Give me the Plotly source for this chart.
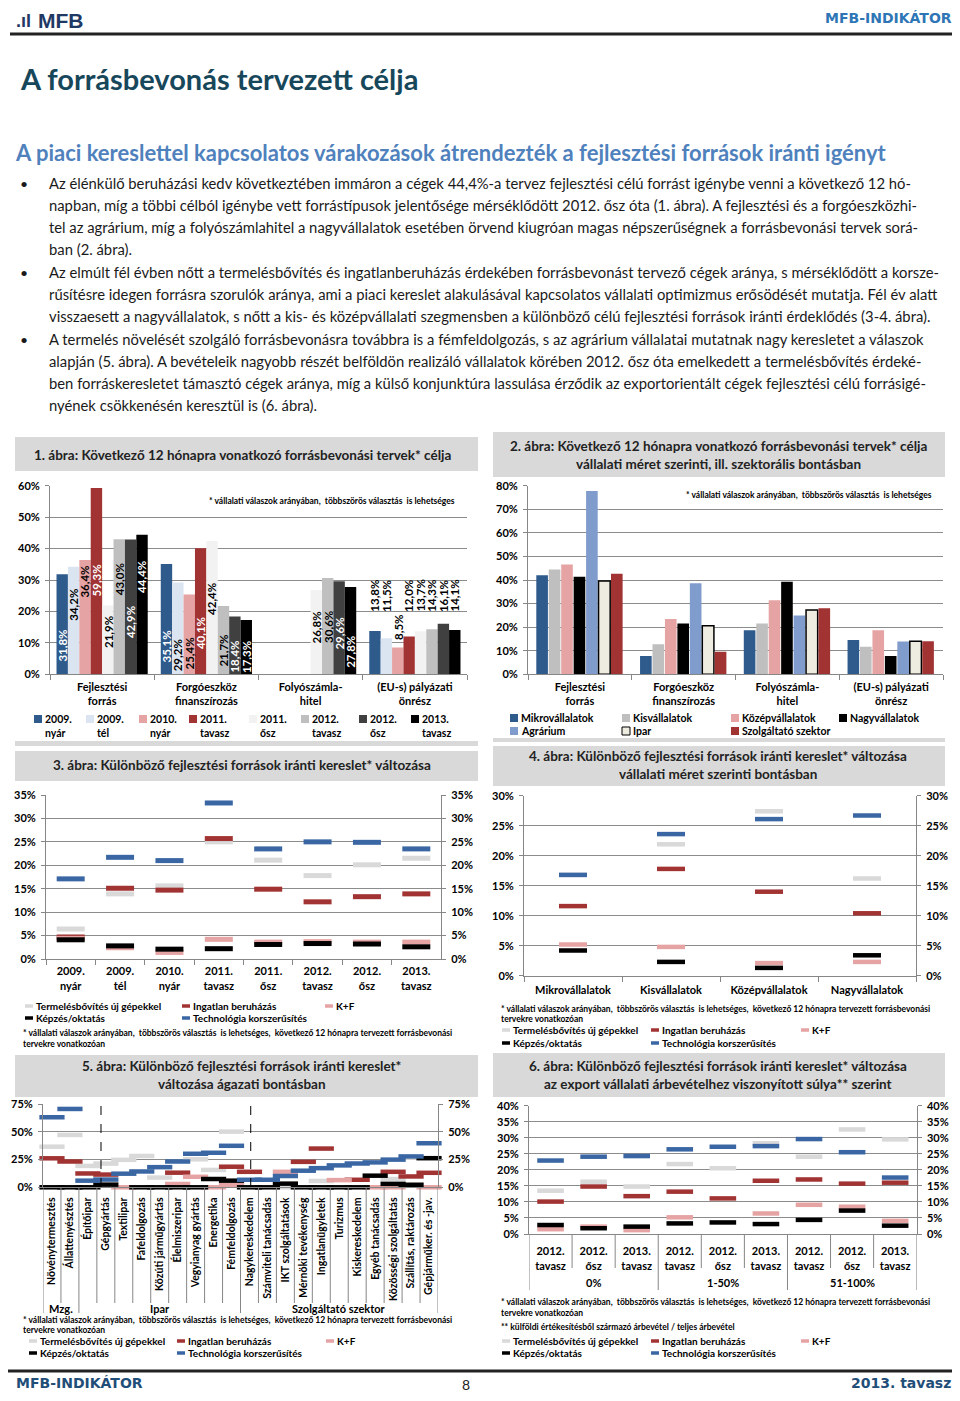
import plotly.graph_objects as go

# The page is drawn inside the browser's default 8px body margin: offset everything by it
# and keep the page within the window so that no scrollbar appears.
PAD = 8
W, H = 960 - PAD, 1401 - 2 * PAD
F = "Lato"


def X(p):
    return (p - PAD) / W


def Y(p):
    return 1 - (p - PAD) / H


# ---------------- DATA ----------------
# Chart 1
c1_categories = ["Fejlesztési<br>forrás", "Forgóeszköz<br>finanszírozás", "Folyószámla-<br>hitel", "(EU-s) pályázati<br>önrész"]
c1_periods = ["2009.<br>nyár", "2009.<br>tél", "2010.<br>nyár", "2011.<br>tavasz", "2011.<br>ősz", "2012.<br>tavasz", "2012.<br>ősz", "2013.<br>tavasz"]
c1_2009_nyar = [31.8, 35.1, None, 13.8]
c1_2009_tel = [34.2, 29.2, None, 11.5]
c1_2010_nyar = [36.4, 25.4, None, 8.5]
c1_2011_tavasz = [59.3, 40.1, None, 12.0]
c1_2011_osz = [21.9, 42.4, 26.8, 13.7]
c1_2012_tavasz = [43.0, 21.7, 30.6, 14.3]
c1_2012_osz = [42.9, 18.4, 29.6, 16.1]
c1_2013_tavasz = [44.4, 17.3, 27.8, 14.1]
# label centre heights (positions, in %)
c1_label_y = [
    [9.2, 9.0, None, 25], [22.0, 6.0, None, 25], [29.5, 6.7, None, 15], [30.0, 13.0, None, 25],
    [13.4, 24.0, 15.0, 25], [30.3, 7.7, 15.0, 25], [16.5, 5.6, 13.0, 25], [31.0, 5.6, 7.0, 25],
]

# Chart 2
c2_categories = c1_categories
c2_names = ["Mikrovállalatok", "Kisvállalatok", "Középvállalatok", "Nagyvállalatok", "Agrárium", "Ipar", "Szolgáltató szektor"]
c2_mikro = [42.0, 7.8, 18.7, 14.6]
c2_kis = [44.5, 12.7, 21.6, 11.7]
c2_kozep = [46.6, 23.5, 31.4, 18.7]
c2_nagy = [41.4, 21.6, 39.3, 7.8]
c2_agrar = [77.7, 38.6, 24.9, 13.9]
c2_ipar = [39.6, 20.6, 27.3, 14.0]
c2_szolg = [42.7, 9.6, 28.0, 14.0]

# Charts 3-6 series
src_names = ["Termelésbővítés új gépekkel", "Ingatlan beruházás", "K+F", "Képzés/oktatás", "Technológia korszerűsítés"]

# Chart 3
c3_periods = c1_periods
c3_termeles = [6.4, 13.9, 15.6, 25.0, 21.1, 17.8, 20.1, 21.5]
c3_ingatlan = [4.7, 15.1, 14.7, 25.7, 14.9, 12.2, 13.3, 13.9]
c3_kf = [4.4, 2.4, 1.4, 4.2, 3.6, 3.7, 3.6, 3.6]
c3_kepzes = [4.1, 2.8, 2.1, 2.2, 3.1, 3.3, 3.2, 2.6]
c3_tech = [17.1, 21.7, 21.0, 33.3, 23.5, 25.0, 24.9, 23.5]

# Chart 4
c4_categories = ["Mikrovállalatok", "Kisvállalatok", "Középvállalatok", "Nagyvállalatok"]
c4_termeles = [16.8, 21.9, 27.4, 16.2]
c4_ingatlan = [11.6, 17.8, 14.0, 10.4]
c4_kf = [5.2, 4.8, 2.1, 2.3]
c4_kepzes = [4.2, 2.3, 1.3, 3.4]
c4_tech = [16.8, 23.6, 26.1, 26.7]

# Chart 5
c5_categories = ["Növénytermesztés", "Állattenyésztés", "Építőipar", "Gépgyártás", "Textilipar", "Fafeldolgozás",
                 "Közúti járműgyártás", "Élelmiszeripar", "Vegyianyag gyártás", "Energetika", "Fémfeldolgozás",
                 "Nagykereskedelem", "Számviteli tanácsadás", "IKT szolgáltatások", "Mérnöki tevékenység",
                 "Ingatlanügyletek", "Turizmus", "Kiskereskedelem", "Egyéb tanácsadás", "Közösségi szolgáltatás",
                 "Szállítás, raktározás", "Gépjárműker. és -jav."]
c5_groups = ["Mzg.", "Ipar", "Szolgáltató szektor"]
c5_group_sizes = [2, 9, 11]
c5_termeles = [36.7, 47.3, 19.3, 21.4, 24.8, 28.3, 8.8, None, 25.3, 15.7, 50.3, None, None, 0, None, 5.7, None, None, None, 7.5, 26.8, None]
c5_ingatlan = [26.2, 23.3, 12.5, 11.5, None, None, None, 13.2, None, None, 18.6, 14.0, None, None, 23.0, 35.0, None, 6.8, None, 14.0, 9.8, 13.1]
c5_kf = [None, None, None, None, 0, None, None, 3.0, 9.5, 0, 2.0, None, None, 14.0, None, None, 6.5, None, 0, 0, None, 0]
c5_kepzes = [0, 0, 0, 2.4, None, 0, 0, 0, 0, 7.5, 6.0, 0, 0, 3.3, 0, 0, 0, 0, 10.5, 3.1, 2.3, 26.3]
c5_tech = [63.3, 70.8, 6.0, 7.0, 12.3, 14.3, 18.2, 23.3, 30.3, 31.2, 37.5, 6.8, 6.8, 10.2, 15.0, 17.3, 19.8, 21.5, 22.5, 25.0, 27.9, 39.8]

# Chart 6
c6_groups = ["0%", "1-50%", "51-100%"]
c6_periods = ["2012.<br>tavasz", "2012.<br>ősz", "2013.<br>tavasz"]
c6_termeles = [13.5, 16.3, 14.8, 21.8, 20.5, 28.3, 24.1, 32.6, 29.5]
c6_ingatlan = [10.1, 14.8, 11.8, 13.2, 11.1, 16.6, 17.0, 15.7, 16.0]
c6_kf = [1.5, 2.3, 1.2, 5.2, None, 6.4, 9.1, 8.5, 4.1]
c6_kepzes = [2.8, 1.8, 2.3, 3.3, 3.6, 3.1, 4.4, 7.3, 2.6]
c6_tech = [22.9, 24.1, 24.3, 26.4, 27.2, 27.4, 29.6, 25.5, 17.6]

# ---------------- STYLE ----------------
c1_colors = ["#2e5a8c", "#dbe5f1", "#e6a3a3", "#a13333", "#f2f2f2", "#bfbfbf", "#404040", "#000000"]
c1_dark = [True, False, False, True, False, False, True, True]
c2_colors = ["#2e5a8c", "#bfbfbf", "#e6a3a3", "#000000", "#7f9ccc", "#eeece1", "#a13333"]
src_colors = ["#d9d9d9", "#a13333", "#e6a3a3", "#000000", "#3a67a3"]
GRID = "#8c8c8c"
AXC = "#868686"
TICKF = dict(family=F, size=11, color="#000000", weight="bold")

fig = go.Figure()
ann = []
shp = []


def txt(x, y, s, size, color="#000000", bold=False, anchor="left", family=F):
    ann.append(dict(x=X(x), y=Y(y), xref="paper", yref="paper", text=s, showarrow=False,
                    xanchor=anchor, yanchor="middle", borderpad=0,
                    font=dict(family=family, size=size, color=color, weight="bold" if bold else "normal")))


def rect(x0, y0, x1, y1, fill, line=None, lw=0, layer="below"):
    shp.append(dict(type="rect", xref="paper", yref="paper", x0=X(x0), x1=X(x1), y0=Y(y1), y1=Y(y0),
                    fillcolor=fill, line=dict(color=line or fill, width=lw), layer=layer))


def hline(x0, x1, y, color, width):
    shp.append(dict(type="line", xref="paper", yref="paper", x0=X(x0), x1=X(x1), y0=Y(y), y1=Y(y),
                    line=dict(color=color, width=width)))


def leg_sq(x, y, color, label, border=None, size=10.5):
    rect(x - 4, y - 4, x + 4, y + 4, color, line=border or color, lw=1 if border else 0, layer="above")
    txt(x + 6, y, label, size, bold=True)


def leg_dash(x, y, color, label, size=10):
    hline(x, x + 8, y, color, 3.5)
    txt(x + 10, y, label, size, bold=True)


def xax(left, right, anchor, **kw):
    d = dict(domain=[X(left), X(right)], anchor=anchor, showline=True, linecolor=AXC, linewidth=1,
             ticks="outside", ticklen=5, tickcolor=AXC, tickfont=TICKF, showgrid=False, zeroline=False,
             automargin=False, fixedrange=True, ticklabelstandoff=2)
    d.update(kw)
    return d


def yax(top, bot, rng, dtick, anchor, side="left", overlay=None, grid=True):
    d = dict(range=rng, dtick=dtick, tick0=0, ticksuffix="%", showgrid=grid, gridcolor=GRID, gridwidth=1,
             showline=True, linecolor=AXC, ticks="outside", ticklen=4, tickcolor=AXC, tickfont=TICKF,
             zeroline=False, automargin=False, fixedrange=True, side=side, anchor=anchor, ticklabelstandoff=3)
    if overlay:
        d["overlaying"] = overlay
    else:
        d["domain"] = [Y(bot), Y(top)]
    return d


def pct(v):
    return f"{v:.1f}".replace(".", ",") + "%"


# ---------------- PAGE TEXT ----------------
txt(15, 21, ".ıl", 18, "#1f3864", bold=True, family="Liberation Sans")
txt(37, 20, "MFB", 21, "#1f3864", bold=True, family="Liberation Sans")
txt(953, 18, "MFB-INDIKÁTOR", 14, "#2e75b6", bold=True, anchor="right", family="DejaVu Sans")
hline(10, 960, 34, "#222222", 3)
txt(19, 79, "A forrásbevonás tervezett célja", 29, "#17475a", bold=True)
txt(14, 152, "A piaci kereslettel kapcsolatos várakozások átrendezték a fejlesztési források iránti igényt", 22, "#4f81bd", bold=True)

body = [
    (183, True, "Az élénkülő beruházási kedv következtében immáron a cégek 44,4%-a tervez fejlesztési célú forrást igénybe venni a következő 12 hó-"),
    (205, False, "napban, míg a többi célból igénybe vett forrástípusok jelentősége mérséklődött 2012. ősz óta (1. ábra). A fejlesztési és a forgóeszközhi-"),
    (227, False, "tel az agrárium, míg a folyószámlahitel a nagyvállalatok esetében örvend kiugróan magas népszerűségnek a forrásbevonási tervek sorá-"),
    (249, False, "ban (2. ábra)."),
    (272, True, "Az elmúlt fél évben nőtt a termelésbővítés és ingatlanberuházás érdekében forrásbevonást tervező cégek aránya, s mérséklődött a korsze-"),
    (294, False, "rűsítésre idegen forrásra szorulók aránya, ami a piaci kereslet alakulásával kapcsolatos vállalati optimizmus erősödését mutatja. Fél év alatt"),
    (316, False, "visszaesett a nagyvállalatok, s nőtt a kis- és középvállalati szegmensben a különböző célú fejlesztési források iránti érdeklődés (3-4. ábra)."),
    (339, True, "A termelés növelését szolgáló forrásbevonásra továbbra is a fémfeldolgozás, s az agrárium vállalatai mutatnak nagy keresletet a válaszok"),
    (361, False, "alapján (5. ábra). A bevételeik nagyobb részét belföldön realizáló vállalatok körében 2012. ősz óta emelkedett a termelésbővítés érdeké-"),
    (383, False, "ben forráskeresletet támasztó cégek aránya, míg a külső konjunktúra lassulása érződik az exportorientált cégek fejlesztési célú forrásigé-"),
    (405, False, "nyének csökkenésén keresztül is (6. ábra)."),
]
for yy, bullet, line in body:
    if bullet:
        txt(19, yy, "•", 14, "#1a1a1a")
    txt(48, yy, line, 14.8, "#1a1a1a")

# footer
hline(5, 960, 1371, "#222222", 3)
txt(15, 1383, "MFB-INDIKÁTOR", 14, "#1f4e79", bold=True, family="DejaVu Sans")
txt(466, 1384, "8", 14, "#222222", anchor="center")
txt(952, 1383, "2013. tavasz", 14, "#1f4e79", bold=True, anchor="right", family="DejaVu Sans")

# ---------------- PANEL BANDS & TITLES ----------------
BAND = "#d9d9d9"
TS = 13.5
rect(15, 437, 478, 471, BAND)
rect(15, 741, 478, 746, BAND)
txt(242, 455, "1. ábra: Következő 12 hónapra vonatkozó forrásbevonási tervek* célja", TS, "#222222", bold=True, anchor="center")
rect(493, 432, 945, 477, BAND)
rect(493, 738, 945, 742, BAND)
txt(718, 446, "2. ábra: Következő 12 hónapra vonatkozó forrásbevonási tervek* célja", TS, "#222222", bold=True, anchor="center")
txt(718, 464, "vállalati méret szerinti, ill. szektorális bontásban", TS, "#222222", bold=True, anchor="center")
rect(15, 751, 478, 781, BAND)
txt(242, 765, "3. ábra: Különböző fejlesztési források iránti kereslet* változása", TS, "#222222", bold=True, anchor="center")
rect(493, 746, 945, 786, BAND)
txt(718, 756, "4. ábra: Különböző fejlesztési források iránti kereslet* változása", TS, "#222222", bold=True, anchor="center")
txt(718, 774, "vállalati méret szerinti bontásban", TS, "#222222", bold=True, anchor="center")
rect(15, 1055, 478, 1097, BAND)
txt(242, 1066, "5. ábra: Különböző fejlesztési források iránti kereslet*", TS, "#222222", bold=True, anchor="center")
txt(242, 1084, "változása ágazati bontásban", TS, "#222222", bold=True, anchor="center")
rect(493, 1053, 945, 1097, BAND)
txt(718, 1066, "6. ábra: Különböző fejlesztési források iránti kereslet* változása", TS, "#222222", bold=True, anchor="center")
txt(718, 1084, "az export vállalati árbevételhez viszonyított súlya** szerint", TS, "#222222", bold=True, anchor="center")

NOTE = "* vállalati válaszok arányában,  többszörös választás  is lehetséges"
NOTE_LONG = "* vállalati válaszok arányában,  többszörös választás  is lehetséges,  következő 12 hónapra tervezett forrásbevonási"
NS = 8.5

# ---------------- CHART 1 ----------------
c1_series = [c1_2009_nyar, c1_2009_tel, c1_2010_nyar, c1_2011_tavasz, c1_2011_osz, c1_2012_tavasz, c1_2012_osz, c1_2013_tavasz]
bw1 = 0.875 / 8
for k, vals in enumerate(c1_series):
    off = -0.4375 + k * bw1
    fig.add_trace(go.Bar(x=c1_categories, y=vals, xaxis="x", yaxis="y", width=bw1, offset=off,
                         marker=dict(color=c1_colors[k], line=dict(width=0)), showlegend=False,
                         name=c1_periods[k].replace("<br>", " ")))
    for i, v in enumerate(vals):
        ly = c1_label_y[k][i]
        if v is None or ly is None:
            continue
        col = "#ffffff" if (c1_dark[k] and ly < v) else "#000000"
        ann.append(dict(x=i + off + bw1 / 2, y=ly, xref="x", yref="y", text=pct(v), showarrow=False,
                        textangle=-90, xanchor="center", yanchor="middle",
                        font=dict(family=F, size=11.5, color=col, weight="bold")))
txt(208, 501, NOTE, NS, "#000000", bold=True)
c1_leg_x = [38, 90, 143, 193, 253, 305, 363, 415]
for k, name in enumerate(c1_periods):
    a, b = name.split("<br>")
    leg_sq(c1_leg_x[k], 719, c1_colors[k], a)
    txt(c1_leg_x[k] + 6, 733, b, 10.5, bold=True)

# ---------------- CHART 2 ----------------
c2_series = [c2_mikro, c2_kis, c2_kozep, c2_nagy, c2_agrar, c2_ipar, c2_szolg]
step2 = 0.12
for k, vals in enumerate(c2_series):
    border = dict(width=1.5, color="#000000") if c2_names[k] == "Ipar" else dict(width=0)
    fig.add_trace(go.Bar(x=c2_categories, y=vals, xaxis="x2", yaxis="y2", width=0.112,
                         offset=-0.42 + k * step2, marker=dict(color=c2_colors[k], line=border),
                         showlegend=False, name=c2_names[k]))
txt(685, 495, NOTE, NS, "#000000", bold=True)
c2_leg_pos = [(514, 718), (626, 718), (735, 718), (843, 718), (514, 731), (626, 731), (735, 731)]
for k, name in enumerate(c2_names):
    x0, y0 = c2_leg_pos[k]
    leg_sq(x0, y0, c2_colors[k], name, border="#000000" if name == "Ipar" else None)


# ---------------- DASH CHARTS ----------------
def dash_traces(xs, series, xa, ya, size, lw):
    for k, vals in enumerate(series):
        fig.add_trace(go.Scatter(x=xs, y=vals, xaxis=xa, yaxis=ya, mode="markers", cliponaxis=False,
                                 marker=dict(symbol="line-ew", size=size, color=src_colors[k],
                                             line=dict(width=lw, color=src_colors[k])),
                                 showlegend=False, name=src_names[k]))


def dummy(xs, xa, ya):
    fig.add_trace(go.Scatter(x=[xs[0]], y=[None], xaxis=xa, yaxis=ya, mode="markers",
                             showlegend=False, hoverinfo="skip"))


def src_legend(x1, x2, x3, y1, y2):
    leg_dash(x1, y1, src_colors[0], src_names[0])
    leg_dash(x2, y1, src_colors[1], src_names[1])
    leg_dash(x3, y1, src_colors[2], src_names[2])
    leg_dash(x1, y2, src_colors[3], src_names[3])
    leg_dash(x2, y2, src_colors[4], src_names[4])


# Chart 3
dash_traces(c3_periods, [c3_termeles, c3_ingatlan, c3_kf, c3_kepzes, c3_tech], "x3", "y3", 20, 5)
dummy(c3_periods, "x3", "y7")
src_legend(25, 182, 325, 1006, 1018)
txt(22, 1033, NOTE_LONG, NS, bold=True)
txt(22, 1044, "tervekre vonatkozóan", NS, bold=True)

# Chart 4
dash_traces(c4_categories, [c4_termeles, c4_ingatlan, c4_kf, c4_kepzes, c4_tech], "x4", "y4", 20, 4.5)
dummy(c4_categories, "x4", "y8")
txt(500, 1009, NOTE_LONG, NS, bold=True)
txt(500, 1019, "tervekre vonatkozóan", NS, bold=True)
src_legend(502, 651, 801, 1030, 1043)

# Chart 5
dash_traces(c5_categories, [c5_termeles, c5_ingatlan, c5_kf, c5_kepzes, c5_tech], "x5", "y5", 18, 4.5)
dummy(c5_categories, "x5", "y9")
for xd in (2.73, 11.07):
    shp.append(dict(type="line", xref="x5", yref="paper", x0=xd, x1=xd, y0=Y(1187), y1=Y(1104),
                    line=dict(color="#000000", width=1, dash="dash")))
bounds5 = [0]
for s in c5_group_sizes:
    bounds5.append(bounds5[-1] + s)
for b in range(len(c5_categories) + 1):
    end = 1313 if b in bounds5 else 1303
    shp.append(dict(type="line", xref="x5", yref="paper", x0=b - 0.5, x1=b - 0.5, y0=Y(1187.3), y1=Y(end),
                    line=dict(color=AXC, width=1)))
for g, name in enumerate(c5_groups):
    ann.append(dict(x=(bounds5[g] + bounds5[g + 1] - 1) / 2, y=Y(1308), xref="x5", yref="paper", text=name,
                    showarrow=False, xanchor="center", yanchor="middle",
                    font=dict(family=F, size=11, color="#000000", weight="bold")))
txt(22, 1320, NOTE_LONG, NS, bold=True)
txt(22, 1330, "tervekre vonatkozóan", NS, bold=True)
src_legend(29, 177, 326, 1341, 1353)

# Chart 6
c6_x = list(range(len(c6_termeles)))
dash_traces(c6_x, [c6_termeles, c6_ingatlan, c6_kf, c6_kepzes, c6_tech], "x6", "y6", 19, 4.5)
dummy(c6_x, "x6", "y10")
n6 = len(c6_x)
per = len(c6_periods)
for b in range(n6 + 1):
    end = 1290 if b % per == 0 else 1268
    shp.append(dict(type="line", xref="x6", yref="paper", x0=b - 0.5, x1=b - 0.5, y0=Y(1234), y1=Y(end),
                    line=dict(color=AXC, width=1)))
for g, name in enumerate(c6_groups):
    ann.append(dict(x=g * per + (per - 1) / 2, y=Y(1282), xref="x6", yref="paper", text=name,
                    showarrow=False, xanchor="center", yanchor="middle",
                    font=dict(family=F, size=11, color="#000000", weight="bold")))
txt(500, 1302, NOTE_LONG, NS, bold=True)
txt(500, 1313, "tervekre vonatkozóan", NS, bold=True)
txt(500, 1327, "** külföldi értékesítésből származó árbevétel / teljes árbevétel", NS, bold=True)
src_legend(502, 651, 801, 1341, 1353)

# ---------------- LAYOUT ----------------
fig.update_layout(
    width=W, height=H, margin=dict(l=0, r=0, t=0, b=0),
    paper_bgcolor="#ffffff", plot_bgcolor="rgba(0,0,0,0)",
    barmode="overlay", showlegend=False,
    xaxis=xax(50, 467, "y", type="category", categoryorder="array", categoryarray=c1_categories,
              range=[-0.5, 3.5], tickson="boundaries"),
    yaxis=yax(485.7, 674.3, [0, 60], 10, "x"),
    xaxis2=xax(528, 943, "y2", type="category", categoryorder="array", categoryarray=c2_categories,
               range=[-0.5, 3.5], tickson="boundaries"),
    yaxis2=yax(485.7, 674.3, [0, 80], 10, "x2"),
    xaxis3=xax(46, 441, "y3", type="category", categoryorder="array", categoryarray=c3_periods,
               range=[-0.5, 7.5], tickson="boundaries"),
    yaxis3=yax(795, 959, [0, 35], 5, "x3"),
    yaxis7=yax(795, 959, [0, 35], 5, "x3", side="right", overlay="y3", grid=False),
    xaxis4=xax(524, 916, "y4", type="category", categoryorder="array", categoryarray=c4_categories,
               range=[-0.5, 3.5], tickson="boundaries", ticklabelstandoff=4),
    yaxis4=yax(795.7, 975.7, [0, 30], 5, "x4"),
    yaxis8=yax(795.7, 975.7, [0, 30], 5, "x4", side="right", overlay="y4", grid=False),
    xaxis5=xax(43, 438, "y5", type="category", categoryorder="array", categoryarray=c5_categories,
               range=[-0.5, 21.5], ticks="", tickangle=-90, ticklabelstandoff=5,
               tickfont=dict(family=F, size=10.5, color="#000", weight="bold")),
    yaxis5=yax(1104.3, 1187.3, [0, 75], 25, "x5"),
    yaxis9=yax(1104.3, 1187.3, [0, 75], 25, "x5", side="right", overlay="y5", grid=False),
    xaxis6=xax(529, 916.7, "y6", range=[-0.5, 8.5], tickvals=c6_x, ticktext=c6_periods * len(c6_groups),
               ticks="", ticklabelstandoff=7),
    yaxis6=yax(1105.7, 1234, [0, 40], 5, "x6"),
    yaxis10=yax(1105.7, 1234, [0, 40], 5, "x6", side="right", overlay="y6", grid=False),
    annotations=ann, shapes=shp,
)

fig.write_html("out.html")
